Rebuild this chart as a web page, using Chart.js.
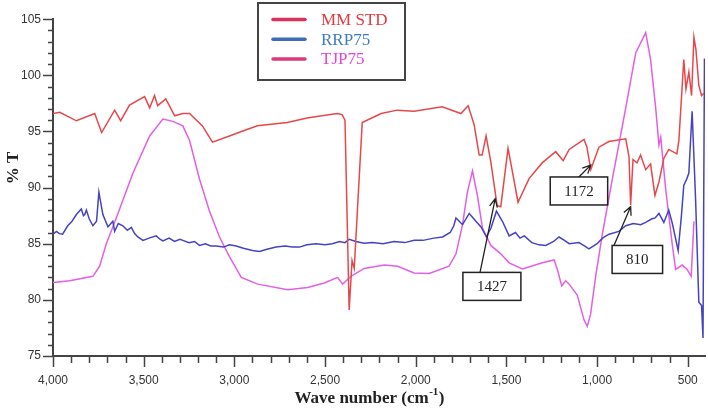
<!DOCTYPE html>
<html>
<head>
<meta charset="utf-8">
<script src="https://cdn.jsdelivr.net/npm/chart.js@4"></script>
<style>
  html, body { margin: 0; padding: 0; background: #fff; }
  #wrap { width: 708px; height: 416px; position: relative; }
</style>
</head>
<body>
<div id="wrap"><canvas id="myChart"></canvas></div>
<script>
// series: [wave number (cm-1), % T]
const mmStd = [
  [4000, 96.6], [3963, 96.7], [3871, 95.95], [3770, 96.6], [3732, 94.9], [3660, 96.9],
  [3627, 95.96], [3578, 97.35], [3495, 98.1], [3467, 97.1], [3440, 98.2], [3423, 97.3],
  [3378, 97.9], [3329, 96.4], [3285, 96.6], [3247, 96.6], [3176, 95.5], [3121, 94.05],
  [3027, 94.6], [2961, 95.0], [2873, 95.5], [2708, 95.8], [2599, 96.2], [2434, 96.6],
  [2406, 96.5], [2390, 96.0], [2367, 79.1], [2351, 83.5], [2339, 82.8], [2295, 95.8],
  [2191, 96.6], [2102, 96.9], [2009, 96.8], [1854, 97.2], [1751, 96.6], [1711, 97.3],
  [1678, 95.6], [1650, 92.9], [1634, 92.9], [1612, 94.6], [1586, 92.3], [1551, 88.4],
  [1531, 88.3], [1491, 93.5], [1469, 91.6], [1436, 88.7], [1375, 90.8], [1303, 92.2],
  [1228, 93.2], [1187, 92.4], [1154, 93.4], [1072, 94.3], [1056, 93.6], [1035, 91.6],
  [990, 93.6], [935, 94.1], [842, 94.35], [824, 92.75], [815, 88.45], [802, 92.5],
  [780, 92.2], [760, 92.9], [732, 91.6], [705, 92.1], [681, 89.3], [659, 90.5],
  [632, 92.6], [605, 93.4], [560, 93.0], [549, 94.2], [522, 101.4], [510, 98.8],
  [494, 100.3], [479, 98.2], [466, 103.4], [455, 102.3], [439, 99.1], [424, 98.2], [411, 98.4]
];

const rrp75 = [
  [4000, 85.85], [3981, 86.1], [3965, 85.9], [3947, 85.85], [3919, 86.6], [3895, 87.0],
  [3871, 87.6], [3844, 88.1], [3832, 87.5], [3825, 87.6], [3816, 88.0], [3800, 87.2],
  [3780, 86.6], [3760, 87.0], [3747, 89.6], [3725, 87.6], [3697, 86.5], [3670, 87.0],
  [3660, 86.1], [3640, 86.8], [3615, 86.6], [3590, 86.2], [3568, 86.45], [3550, 85.9],
  [3532, 85.6], [3504, 85.3], [3470, 85.5], [3431, 85.7], [3410, 85.4], [3394, 85.25],
  [3360, 85.5], [3330, 85.2], [3300, 85.4], [3284, 85.3], [3250, 85.1], [3220, 85.2],
  [3192, 84.85], [3160, 85.0], [3130, 84.8], [3100, 84.8], [3060, 84.7], [3027, 84.9],
  [2990, 84.8], [2950, 84.6], [2900, 84.4], [2862, 84.3], [2820, 84.5], [2770, 84.7],
  [2720, 84.8], [2680, 84.7], [2641, 84.7], [2600, 84.9], [2549, 85.0], [2500, 84.9],
  [2460, 85.0], [2420, 85.2], [2390, 85.1], [2367, 85.4], [2330, 85.2], [2284, 85.05],
  [2240, 85.1], [2180, 85.0], [2120, 85.2], [2060, 85.1], [2009, 85.3], [1960, 85.3],
  [1900, 85.5], [1852, 85.6], [1810, 86.0], [1790, 86.6], [1778, 87.3], [1742, 86.7],
  [1705, 87.7], [1668, 87.0], [1640, 86.5], [1610, 85.6], [1585, 86.4], [1555, 87.9],
  [1522, 87.0], [1485, 85.7], [1450, 86.0], [1425, 85.5], [1401, 85.7], [1360, 85.1],
  [1320, 84.9], [1283, 84.85], [1240, 85.2], [1210, 85.6], [1180, 85.3], [1154, 85.0],
  [1100, 85.1], [1070, 84.8], [1045, 84.55], [1000, 85.0], [970, 85.5], [934, 85.85],
  [880, 86.1], [842, 86.6], [800, 86.8], [760, 86.7], [732, 86.9], [700, 87.2],
  [680, 87.3], [659, 87.7], [632, 86.9], [605, 88.0], [585, 86.8], [553, 84.4],
  [535, 87.5], [522, 90.2], [505, 90.8], [494, 91.3], [476, 96.8], [457, 89.0],
  [439, 79.8], [424, 79.5], [416, 76.6], [408, 101.5]
];

const tjp75 = [
  [4000, 81.55], [3908, 81.7], [3780, 82.1], [3743, 83.0], [3706, 85.0], [3651, 87.3],
  [3559, 91.3], [3467, 94.6], [3394, 96.1], [3339, 95.9], [3284, 95.5], [3247, 94.2],
  [3192, 90.75], [3137, 87.9], [3082, 85.6], [3027, 83.85], [2962, 82.0], [2871, 81.4],
  [2706, 80.9], [2596, 81.1], [2504, 81.5], [2431, 82.0], [2403, 81.4], [2357, 82.1],
  [2284, 82.8], [2173, 83.1], [2100, 83.0], [2009, 82.4], [1926, 82.35], [1816, 83.0],
  [1778, 84.1], [1742, 86.7], [1715, 89.6], [1687, 91.5], [1660, 89.3], [1632, 86.4],
  [1586, 84.85], [1531, 84.1], [1485, 83.3], [1412, 82.75], [1302, 83.3], [1237, 83.55],
  [1219, 82.7], [1195, 81.25], [1173, 81.7], [1154, 81.4], [1109, 80.4], [1072, 78.2],
  [1054, 77.65], [1036, 78.7], [1008, 82.1], [971, 85.85], [916, 90.75], [842, 97.1],
  [787, 102.0], [732, 103.8], [705, 101.4], [677, 97.1], [659, 93.8], [649, 94.5],
  [622, 89.9], [586, 85.0], [567, 82.7], [531, 83.1], [503, 82.7], [481, 82.1], [466, 87.0]
];

const seriesLabels = ["MM STD", "RRP75", "TJP75"];

// peak labels: text, box centre, arrow tail, arrow tip (wave number, %T)
const peakLabels = ["1427", "1172", "810"];
const peakBox = [[1580, 81.2], [1100, 89.7], [778, 83.6]];
const peakTail = [[1646, 82.4], [1103, 90.9], [907, 84.85]];
const peakTip = [[1562, 89.0], [1035, 92.0], [815, 88.3]];

const xMin = 405, xMax = 4000, yMin = 75, yMax = 105;
// x ticks every 100, labelled every 500
const xTicks = [];
for (let v = 500; v <= 4000; v += 100) xTicks.push(v);

const lineColors = ["#e6474b", "#4343c4", "#e35fe3"];
const legendLineColors = ["#d9325c", "#3f6db5", "#dc3a7a"];
const legendTextColors = ["#e23b3b", "#3d7cbf", "#e444d8"];

function toXY(arr) {
  return arr.map(function (p) { return { x: p[0], y: p[1] }; });
}

const overlay = {
  id: "overlay",
  afterDraw(chart) {
    const ctx = chart.ctx;
    const xs = chart.scales.x, ys = chart.scales.y, a = chart.chartArea;
    ctx.save();

    // tick marks
    ctx.strokeStyle = "#444";
    ctx.lineWidth = 1.5;
    ctx.beginPath();
    xs.ticks.forEach(function (t) {
      const px = Math.round(xs.getPixelForValue(t.value)) + 0.5;
      const len = t.value % 500 === 0 ? 11 : 7;
      ctx.moveTo(px, a.bottom);
      ctx.lineTo(px, a.bottom + len);
    });
    ys.ticks.forEach(function (t) {
      const py = Math.round(ys.getPixelForValue(t.value)) + 0.5;
      const len = t.value % 5 === 0 ? 10 : 5;
      ctx.moveTo(a.left - len, py);
      ctx.lineTo(a.left, py);
    });
    ctx.stroke();

    // axis titles
    ctx.fillStyle = "#222";
    const f1 = 'bold 17px "Liberation Serif"', f2 = 'bold 11px "Liberation Serif"';
    ctx.font = f1;
    const p1 = "Wave number (cm", p3 = ")";
    const w1 = ctx.measureText(p1).width, w3 = ctx.measureText(p3).width;
    ctx.font = f2;
    const w2 = ctx.measureText("-1").width;
    let sx = 369 - (w1 + w2 + w3) / 2;
    const base = 403;
    ctx.textBaseline = "alphabetic";
    ctx.textAlign = "left";
    ctx.font = f1;
    ctx.fillText(p1, sx, base);
    ctx.font = f2;
    ctx.fillText("-1", sx + w1 + 0.5, base - 8);
    ctx.font = f1;
    ctx.fillText(p3, sx + w1 + w2 + 1, base);

    ctx.save();
    ctx.translate(14, 168);
    ctx.rotate(-Math.PI / 2);
    ctx.textAlign = "center";
    ctx.textBaseline = "middle";
    ctx.fillText("% T", 0, 0);
    ctx.restore();

    // legend
    ctx.fillStyle = "#fff";
    ctx.fillRect(258, 3, 147, 77);
    ctx.strokeStyle = "#444";
    ctx.lineWidth = 2;
    ctx.strokeRect(258, 3, 147, 77);
    ctx.font = '17px "Liberation Serif"';
    ctx.textAlign = "left";
    ctx.textBaseline = "middle";
    chart.data.datasets.forEach(function (ds, i) {
      const ly = 19.5 + i * 19.7;
      ctx.strokeStyle = legendLineColors[i];
      ctx.lineWidth = 3.5;
      ctx.lineCap = "round";
      ctx.beginPath();
      ctx.moveTo(273, ly);
      ctx.lineTo(305, ly);
      ctx.stroke();
      ctx.fillStyle = legendTextColors[i];
      ctx.fillText(ds.label, 321, ly + 1);
    });
    ctx.lineCap = "butt";

    // peak labels with arrows
    ctx.font = '15px "Liberation Serif"';
    ctx.textAlign = "center";
    peakLabels.forEach(function (txt, i) {
      const tx = xs.getPixelForValue(peakTail[i][0]), ty = ys.getPixelForValue(peakTail[i][1]);
      const hx = xs.getPixelForValue(peakTip[i][0]), hy = ys.getPixelForValue(peakTip[i][1]);
      ctx.strokeStyle = "#222";
      ctx.lineWidth = 1.3;
      ctx.beginPath();
      ctx.moveTo(tx, ty);
      ctx.lineTo(hx, hy);
      const ang = Math.atan2(hy - ty, hx - tx);
      ctx.moveTo(hx - 9 * Math.cos(ang - 0.45), hy - 9 * Math.sin(ang - 0.45));
      ctx.lineTo(hx, hy);
      ctx.lineTo(hx - 9 * Math.cos(ang + 0.45), hy - 9 * Math.sin(ang + 0.45));
      ctx.stroke();

      const bx = xs.getPixelForValue(peakBox[i][0]), by = ys.getPixelForValue(peakBox[i][1]);
      const bw = ctx.measureText(txt).width + 28, bh = 28;
      ctx.fillStyle = "#fff";
      ctx.fillRect(bx - bw / 2, by - bh / 2, bw, bh);
      ctx.strokeStyle = "#222";
      ctx.lineWidth = 1.5;
      ctx.strokeRect(bx - bw / 2, by - bh / 2, bw, bh);
      ctx.fillStyle = "#222";
      ctx.fillText(txt, bx, by + 1);
    });

    ctx.restore();
  }
};

const ctx = document.getElementById("myChart");

new Chart(ctx, {
  type: "line",
  data: {
    datasets: [mmStd, rrp75, tjp75].map(function (s, i) {
      return {
        label: seriesLabels[i],
        data: toXY(s),
        borderColor: lineColors[i],
        borderWidth: 1.5,
        pointRadius: 0,
        tension: 0,
        fill: false,
      };
    }),
  },
  options: {
    responsive: true,
    maintainAspectRatio: false,
    animation: false,
    layout: { padding: { top: 8, right: 3, left: 0, bottom: 0 } },
    plugins: {
      legend: { display: false },
      tooltip: { enabled: false },
    },
    scales: {
      x: {
        type: "linear",
        reverse: true,
        min: xMin,
        max: xMax,
        afterBuildTicks: (scale) => {
          scale.ticks = xTicks.map((v) => ({ value: v }));
        },
        afterFit: (scale) => {
          scale.height = 60;
        },
        border: { display: true, color: "#444", width: 2 },
        grid: { display: false, drawTicks: false },
        ticks: {
          autoSkip: false,
          maxRotation: 0,
          padding: 17,
          color: "#333",
          font: { family: "Liberation Sans", size: 12 },
          callback: (value) => (value % 500 === 0 ? value.toLocaleString("en-US") : ""),
        },
      },
      y: {
        min: yMin,
        max: yMax,
        afterFit: (scale) => {
          scale.width = 53;
        },
        border: { display: true, color: "#444", width: 2 },
        grid: { display: false, drawTicks: false },
        ticks: {
          stepSize: 1,
          autoSkip: false,
          padding: 12,
          color: "#333",
          font: { family: "Liberation Sans", size: 12 },
          callback: (value) => (value % 5 === 0 ? value : ""),
        },
      },
    },
  },
  plugins: [overlay],
});
</script>
</body>
</html>
